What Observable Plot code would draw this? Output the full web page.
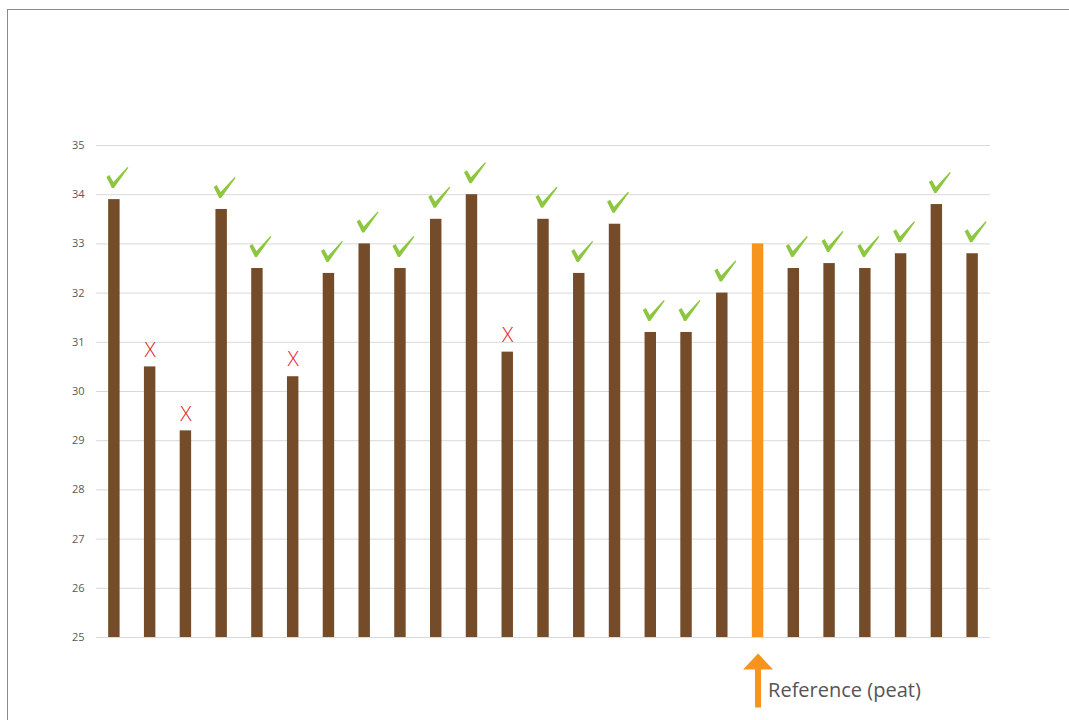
<!DOCTYPE html>
<html>
<head>
<meta charset="utf-8">
<script src="https://cdn.jsdelivr.net/npm/d3@7"></script>
<script src="https://cdn.jsdelivr.net/npm/@observablehq/plot@0.6"></script>
<style>
  html, body { margin: 0; padding: 0; background: #fff; }
  #wrap { position: relative; width: 1069px; height: 720px; overflow: hidden; }
  #frame { position: absolute; left: 7px; top: 9px; width: 1080px; height: 730px;
           border-top: 1px solid #8a8a8a; border-left: 1px solid #8a8a8a; box-sizing: border-box; }
  #chart { position: absolute; left: 0; top: 0; }
</style>
</head>
<body>
<div id="wrap"><div id="frame"></div><div id="chart"></div></div>
<script>
// Categories (samples in order); the 19th is the peat reference
const samples = ["S1","S2","S3","S4","S5","S6","S7","S8","S9","S10","S11","S12","S13","S14","S15","S16","S17","S18","Reference (peat)","S20","S21","S22","S23","S24","S25"];
// Measured values
const values = [33.9, 30.5, 29.2, 33.7, 32.5, 30.3, 32.4, 33.0, 32.5, 33.5, 34.0, 30.8, 33.5, 32.4, 33.4, 31.2, 31.2, 32.0, 33.0, 32.5, 32.6, 32.5, 32.8, 33.8, 32.8];
// Verdict per sample: "pass", "fail" or "ref"
const verdicts = ["pass","fail","fail","pass","pass","fail","pass","pass","pass","pass","pass","fail","pass","pass","pass","pass","pass","pass","ref","pass","pass","pass","pass","pass","pass"];
// Y-axis ticks
const yTicks = [25, 26, 27, 28, 29, 30, 31, 32, 33, 34, 35];
const referenceLabel = "Reference (peat)";

const data = samples.map((s, i) => ({sample: s, value: values[i], verdict: verdicts[i]}));
const passes = data.filter(d => d.verdict === "pass");
const fails = data.filter(d => d.verdict === "fail");
const refs = data.filter(d => d.verdict === "ref");

const brown = "#754C29", orange = "#F7941D", green = "#8DC63F", red = "#E0262A", grey = "#595959";

// Brush-style check mark symbol
const checkSymbol = {
  draw(ctx) {
    ctx.moveTo(-11, -0.5);
    ctx.lineTo(-8, -2.5);
    ctx.lineTo(-4, 4.5);
    ctx.lineTo(10, -10.5);
    ctx.lineTo(11, -9.8);
    ctx.lineTo(-3.5, 10.5);
    ctx.lineTo(-5.5, 10.5);
    ctx.closePath();
  }
};

// Upward arrow symbol (head + shaft) for the reference annotation
const arrowSymbol = {
  draw(ctx) {
    ctx.moveTo(0, -27);
    ctx.lineTo(15, -11);
    ctx.lineTo(3, -11);
    ctx.lineTo(3, 27);
    ctx.lineTo(-3, 27);
    ctx.lineTo(-3, -11);
    ctx.lineTo(-15, -11);
    ctx.closePath();
  }
};

const chart = Plot.plot({
  width: 1069,
  height: 720,
  marginLeft: 96,
  marginRight: 79,
  marginTop: 145,
  marginBottom: 83,
  style: {fontFamily: "'Open Sans', sans-serif", fontSize: "11px", color: grey, background: "transparent"},
  x: {domain: samples, paddingInner: 0.68, paddingOuter: 0.34, round: false, axis: null},
  y: {domain: [25, 35], ticks: yTicks, grid: false, label: null, axis: null},
  marks: [
    Plot.gridY(yTicks, {stroke: "#d9d9d9", strokeOpacity: 1, strokeWidth: 1}),
    Plot.axisY(yTicks, {tickSize: 0, tickPadding: 12, fill: grey, fontSize: 11, label: null, tickFormat: d => String(d)}),
    Plot.barY(data, {x: "sample", y1: 25, y2: "value", fill: d => d.verdict === "ref" ? orange : brown}),
    Plot.dot(passes, {x: "sample", y: "value", dy: -22, dx: 3, symbol: checkSymbol, fill: green, stroke: null, r: 1}),
    Plot.text(fails, {x: "sample", y: "value", text: () => "X", fill: red, fontSize: 21, fontWeight: 300, dy: -17, fontFamily: "'Open Sans', sans-serif"}),
    Plot.dot(refs, {x: "sample", y: 25, dy: 43, symbol: arrowSymbol, fill: orange, stroke: null, r: 1}),
    Plot.text(refs, {x: "sample", y: 25, dy: 53, dx: 10, text: () => referenceLabel, textAnchor: "start", fill: "#555", fontSize: 20, fontFamily: "'Open Sans', sans-serif"})
  ]
});
document.getElementById("chart").appendChild(chart);
</script>
</body>
</html>
